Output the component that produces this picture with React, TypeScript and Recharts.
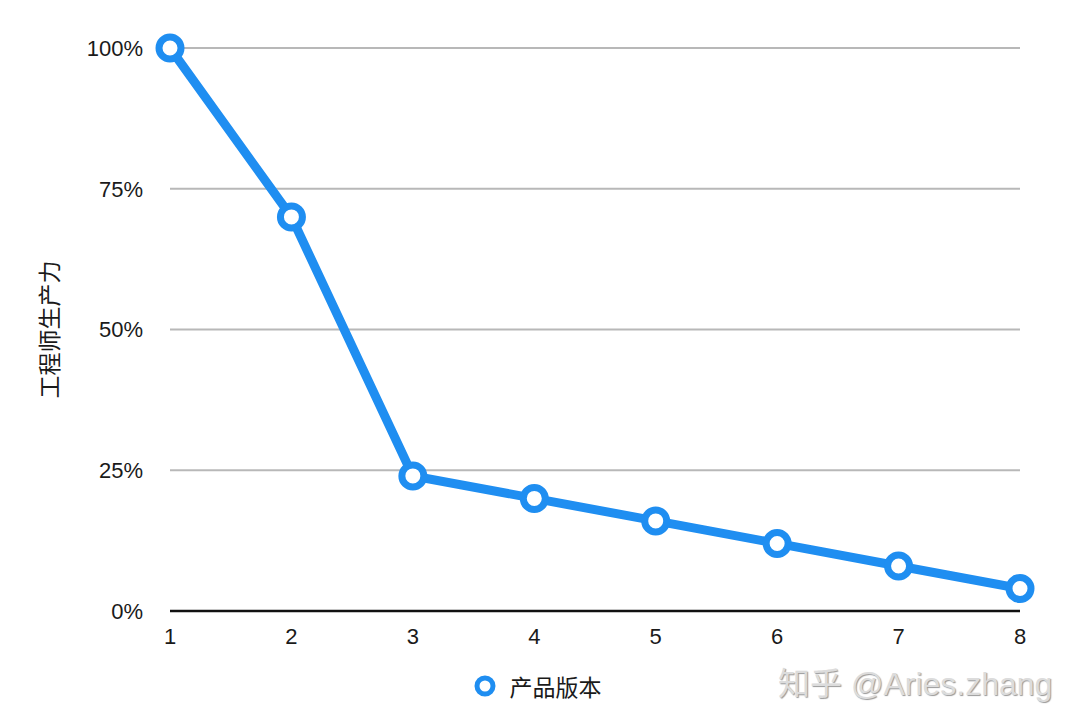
import React from 'react';
import { LineChart, Line, XAxis, YAxis, CartesianGrid, Legend, Label } from 'recharts';

const versions = [1, 2, 3, 4, 5, 6, 7, 8];
const productivity = [100, 70, 24, 20, 16, 12, 8, 4];
const yTicks = [0, 25, 50, 75, 100];
const seriesName = '产品版本';
const yTitle = '工程师生产力';
const watermark = '知乎 @Aries.zhang';

const BLUE = '#1f8ef1';
const FONT = '"Liberation Sans", "Noto Sans CJK SC", sans-serif';

const data = versions.map((v, i) => ({ version: v, value: productivity[i] }));

const LegendContent = () => (
  <div
    style={{
      display: 'flex',
      justifyContent: 'center',
      alignItems: 'center',
      height: 40,
      fontFamily: FONT,
      fontSize: 23,
      color: '#1a1a1a',
      paddingLeft: 54,
    }}
  >
    <svg width={24} height={24} style={{ marginRight: 13 }}>
      <circle cx={12} cy={12} r={8} fill="#fff" stroke={BLUE} strokeWidth={5} />
    </svg>
    <span>{seriesName}</span>
  </div>
);

const YTitle = (props: any) => {
  const vb = props.viewBox || {};
  const cy = vb.y + vb.height / 2;
  return (
    <text
      x={50}
      y={cy}
      transform={`rotate(-90, 50, ${cy})`}
      textAnchor="middle"
      dominantBaseline="central"
      fontSize={23}
      fill="#1a1a1a"
      fontFamily={FONT}
    >
      {yTitle}
    </text>
  );
};

export default function App() {
  return (
    <div style={{ position: 'fixed', top: 0, left: 0, width: 1080, height: 728, background: '#fff' }}>
      <LineChart
        width={1080}
        height={728}
        data={data}
        margin={{ top: 48, right: 60, bottom: 22, left: 0 }}
      >
        <CartesianGrid horizontal vertical={false} stroke="#b8b8b8" strokeWidth={2} />
        <XAxis
          dataKey="version"
          type="number"
          domain={[1, 8]}
          ticks={versions}
          height={55}
          axisLine={{ stroke: '#111', strokeWidth: 2.5 }}
          tickLine={false}
          tickSize={0}
          tickMargin={17}
          tick={{ fontSize: 22, fill: '#1a1a1a', fontFamily: FONT }}
        />
        <YAxis
          type="number"
          domain={[0, 100]}
          ticks={yTicks}
          width={170}
          axisLine={false}
          tickLine={false}
          tickSize={0}
          tickMargin={27}
          tickFormatter={(v: number) => `${v}%`}
          tick={{ fontSize: 22, fill: '#1a1a1a', fontFamily: FONT }}
        >
          <Label content={<YTitle />} />
        </YAxis>
        <Legend verticalAlign="bottom" height={40} content={<LegendContent />} />
        <Line
          type="linear"
          dataKey="value"
          name={seriesName}
          stroke={BLUE}
          strokeWidth={9}
          dot={{ r: 11, fill: '#fff', stroke: BLUE, strokeWidth: 7 }}
          activeDot={false}
          isAnimationActive={false}
        />
      </LineChart>
      <div
        style={{
          position: 'absolute',
          left: 778,
          top: 658,
          fontFamily: FONT,
          fontSize: 32,
          color: '#dcdcdc',
          textShadow: '1px 1px 1px #999',
          whiteSpace: 'nowrap',
        }}
      >
        {watermark}
      </div>
    </div>
  );
}
